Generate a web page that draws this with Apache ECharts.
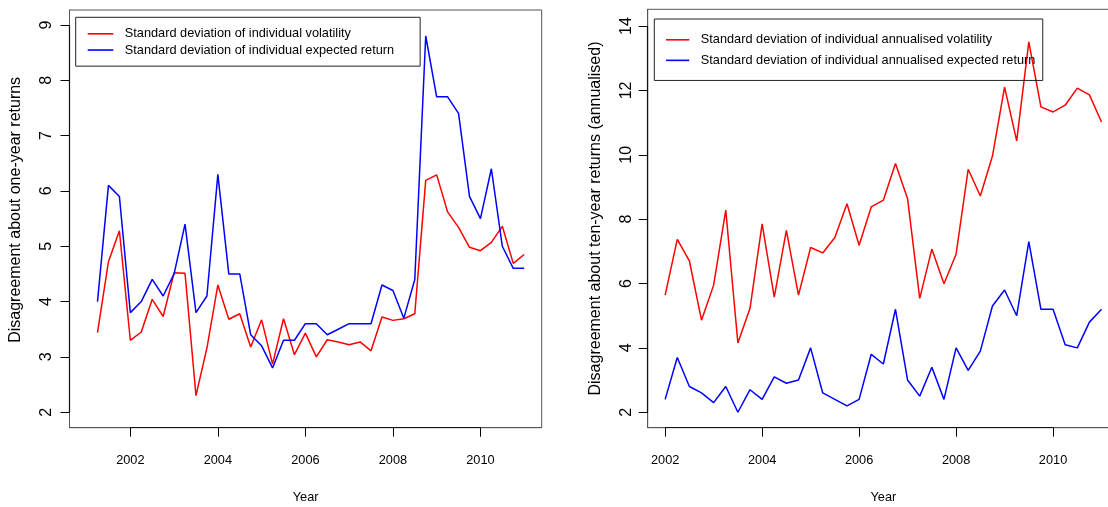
<!DOCTYPE html>
<html>
<head>
<meta charset="utf-8">
<script src="https://cdn.jsdelivr.net/npm/echarts@6/dist/echarts.min.js"></script>
<style>
html,body{margin:0;padding:0;background:#fff;}
#c{width:1108px;height:507px;}
</style>
</head>
<body>
<div id="c"></div>
<script>
// ---- Data ----
const leftYears = [2001.25,2001.5,2001.75,2002.0,2002.25,2002.5,2002.75,2003.0,2003.25,2003.5,
  2003.75,2004.0,2004.25,2004.5,2004.75,2005.0,2005.25,2005.5,2005.75,2006.0,
  2006.25,2006.5,2006.75,2007.0,2007.25,2007.5,2007.75,2008.0,2008.25,2008.5,
  2008.75,2009.0,2009.25,2009.5,2009.75,2010.0,2010.25,2010.5,2010.75,2011.0];
const leftVolatility = [3.44,4.72,5.28,3.30,3.45,4.04,3.73,4.52,4.51,2.30,
  3.16,4.30,3.68,3.78,3.18,3.67,2.87,3.69,3.04,3.43,
  3.00,3.31,3.27,3.22,3.27,3.11,3.72,3.66,3.69,3.78,
  6.19,6.29,5.62,5.34,4.98,4.92,5.07,5.36,4.69,4.85];
const leftExpected = [4.0,6.1,5.9,3.8,4.0,4.4,4.1,4.5,5.4,3.8,
  4.1,6.3,4.5,4.5,3.4,3.2,2.8,3.3,3.3,3.6,
  3.6,3.4,3.5,3.6,3.6,3.6,4.3,4.2,3.7,4.4,
  8.8,7.7,7.7,7.4,5.9,5.5,6.4,5.0,4.6,4.6];

const rightYears = [2002.0,2002.25,2002.5,2002.75,2003.0,2003.25,2003.5,2003.75,2004.0,2004.25,
  2004.5,2004.75,2005.0,2005.25,2005.5,2005.75,2006.0,2006.25,2006.5,2006.75,
  2007.0,2007.25,2007.5,2007.75,2008.0,2008.25,2008.5,2008.75,2009.0,2009.25,
  2009.5,2009.75,2010.0,2010.25,2010.5,2010.75,2011.0];
const rightVolatility = [5.64,7.37,6.70,4.86,5.95,8.28,4.15,5.23,7.85,5.58,
  7.65,5.64,7.12,6.95,7.43,8.48,7.19,8.38,8.59,9.73,
  8.63,5.54,7.07,5.99,6.91,9.55,8.72,9.96,12.10,10.43,
  13.51,11.49,11.33,11.54,12.07,11.86,11.02];
const rightExpected = [2.4,3.7,2.8,2.6,2.3,2.8,2.0,2.7,2.4,3.1,
  2.9,3.0,4.0,2.6,2.4,2.2,2.4,3.8,3.5,5.2,
  3.0,2.5,3.4,2.4,4.0,3.3,3.9,5.3,5.8,5.0,
  7.3,5.2,5.2,4.1,4.0,4.8,5.2];

const xTicks = [2002,2004,2006,2008,2010];
const leftYTicks = [2,3,4,5,6,7,8,9];
const rightYTicks = [2,4,6,8,10,12,14];

const leftNames = ['Standard deviation of individual volatility','Standard deviation of individual expected return'];
const rightNames = ['Standard deviation of individual annualised volatility','Standard deviation of individual annualised expected return'];
const leftYTitle = 'Disagreement about one-year returns';
const rightYTitle = 'Disagreement about ten-year returns (annualised)';
const xTitle = 'Year';

// ---- Chart ----
const RED = '#ff0000', BLUE = '#0000ff';
const sans = "'Liberation Sans', Arial, sans-serif";
const HFS = 12.75;   // horizontal text size
const VFS = 16;      // rotated text size
const pair = (xs, ys) => xs.map((x, i) => [x, ys[i]]);

const LX = [2000.61, 2011.40], LY = [1.72, 9.27];
const RX = [2001.64, 2011.36], RY = [1.52, 14.52];

function xAxis(gi, r) {
  return {
    type: 'value', gridIndex: gi, min: r[0], max: r[1],
    name: xTitle, nameLocation: 'middle', nameGap: 63,
    nameTextStyle: {fontFamily: sans, fontSize: HFS, color: '#000'},
    axisLine: {show: true, lineStyle: {color: '#555', width: 1}},
    axisTick: {show: true, inside: false, length: 9, customValues: xTicks, lineStyle: {color: '#000'}},
    axisLabel: {show: true, customValues: xTicks, margin: 26, fontFamily: sans, fontSize: HFS, color: '#000',
      formatter: v => String(v)},
    splitLine: {show: false}
  };
}
function yAxis(gi, r, ticks, title, gap, margin, pad) {
  return {
    type: 'value', gridIndex: gi, min: r[0], max: r[1],
    name: title, nameLocation: 'middle', nameGap: gap,
    nameTextStyle: {fontFamily: sans, fontSize: VFS, color: '#000', padding: pad},
    axisLine: {show: true, lineStyle: {color: '#555', width: 1}},
    axisTick: {show: true, inside: false, length: 9, customValues: ticks, lineStyle: {color: '#000'}},
    axisLabel: {show: true, customValues: ticks, rotate: 90, margin: margin, fontFamily: sans, fontSize: VFS, color: '#000',
      formatter: v => String(v)},
    splitLine: {show: false}
  };
}
function series(name, gi, data, color) {
  return {
    name: name, type: 'line', xAxisIndex: gi, yAxisIndex: gi,
    data: data, symbol: 'none', showSymbol: false, animation: false,
    lineStyle: {color: color, width: 1.5}, itemStyle: {color: color}
  };
}
// axis segment between first and last tick (R style), drawn in data coordinates
function axisSegment(gi, xr, yr, yTicks) {
  return {
    type: 'line', xAxisIndex: gi, yAxisIndex: gi, data: [], silent: true,
    markLine: {
      silent: true, symbol: 'none', animation: false, label: {show: false},
      lineStyle: {color: '#111', width: 1.2, type: 'solid'},
      data: [
        [{coord: [xTicks[0], yr[0]]}, {coord: [xTicks[xTicks.length - 1], yr[0]]}],
        [{coord: [xr[0], yTicks[0]]}, {coord: [xr[0], yTicks[yTicks.length - 1]]}]
      ]
    }
  };
}
const legendBase = {
  orient: 'vertical', icon: 'rect',
  itemHeight: 1.6,
  textStyle: {fontFamily: sans, fontSize: HFS, color: '#000', padding: [0, 0, 0, 6.5]},
  borderColor: '#222', borderWidth: 1, backgroundColor: 'transparent', selectedMode: false
};

const chart = echarts.init(document.getElementById('c'), null, {renderer: 'canvas'});
chart.setOption({
  animation: false,
  backgroundColor: '#fff',
  grid: [
    {left: 69.5, top: 10, width: 472.2, height: 417.7, show: true, borderColor: '#555', borderWidth: 1,
      containLabel: false, outerBoundsMode: 'none'},
    {left: 647.7, top: 9.3, width: 471.3, height: 418.4, show: true, borderColor: '#555', borderWidth: 1,
      containLabel: false, outerBoundsMode: 'none'}
  ],
  xAxis: [xAxis(0, LX), xAxis(1, RX)],
  yAxis: [
    yAxis(0, LY, leftYTicks, leftYTitle, 46, 15, [0, 0, 0, 18]),
    yAxis(1, RY, rightYTicks, rightYTitle, 44, 13, [0, 0, 0, 0])
  ],
  legend: [
    Object.assign({}, legendBase, {
      data: leftNames, left: 75.7, top: 17.3, itemWidth: 25.6, itemGap: 3.25,
      padding: [10, 26, 9.6, 12]
    }),
    Object.assign({}, legendBase, {
      data: rightNames, left: 654.3, top: 19, itemWidth: 23.3, itemGap: 7.55,
      padding: [14.3, 7.4, 13.6, 11.7]
    })
  ],
  series: [
    series(leftNames[0], 0, pair(leftYears, leftVolatility), RED),
    series(leftNames[1], 0, pair(leftYears, leftExpected), BLUE),
    series(rightNames[0], 1, pair(rightYears, rightVolatility), RED),
    series(rightNames[1], 1, pair(rightYears, rightExpected), BLUE),
    axisSegment(0, LX, LY, leftYTicks),
    axisSegment(1, RX, RY, rightYTicks)
  ]
});
</script>
</body>
</html>
